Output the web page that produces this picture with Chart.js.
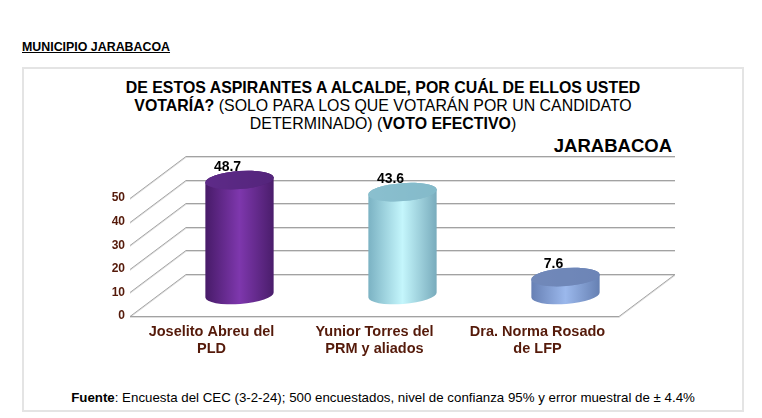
<!DOCTYPE html>
<html>
<head>
<meta charset="utf-8">
<script src="https://cdn.jsdelivr.net/npm/chart.js@4.4.1/dist/chart.umd.min.js"></script>
<style>
  body { margin: 0; background: #fff; font-family: "Liberation Sans", Arial, sans-serif; }
  #wrap { position: relative; width: 762px; height: 418px; overflow: hidden; }
  #head { position: absolute; left: 22px; top: 41px; font-size: 12.4px; line-height: 12px; font-weight: bold; text-decoration: underline; color: #000; }
  #box { position: absolute; left: 22px; top: 67px; width: 722px; height: 345px; border: 2px solid #e4e4e4; box-sizing: border-box; }
  #title { position: absolute; left: 2px; width: 762px; top: 79px; text-align: center; font-size: 15.9px; line-height: 18px; color: #000; }
  #place { position: absolute; right: 90px; top: 137px; font-size: 18.5px; line-height: 18.5px; font-weight: bold; color: #000; }
  #note { position: absolute; left: 2px; width: 762px; top: 391px; text-align: center; font-size: 13.3px; line-height: 13px; color: #000; }
  canvas { position: absolute; left: 0; top: 0; }
</style>
</head>
<body>
<div id="wrap">
  <div id="head">MUNICIPIO JARABACOA</div>
  <div id="box"></div>
  <div id="title">
    <b>DE ESTOS ASPIRANTES A ALCALDE, POR CUÁL DE ELLOS USTED</b><br>
    <b>VOTARÍA?</b> (SOLO PARA LOS QUE VOTARÁN POR UN CANDIDATO<br>
    DETERMINADO) (<b>VOTO EFECTIVO</b>)
  </div>
  <div id="place">JARABACOA</div>
  <div id="note"><b>Fuente</b>: Encuesta del CEC (3-2-24); 500 encuestados, nivel de confianza 95% y error muestral de ± 4.4%</div>
  <canvas id="chart" width="762" height="418"></canvas>
</div>
<script>
// data
const candidates = [
  ['Joselito Abreu del', 'PLD'],
  ['Yunior Torres del', 'PRM y aliados'],
  ['Dra. Norma Rosado', 'de LFP']
];
const votes = [48.7, 43.6, 7.6];
const yMax = 50;
const yStep = 10;

// cylinder colours: [edge, highlight, edge, top]
const cylColors = [
  ['#471b68', '#7e37ad', '#4a1d6b', '#5e2b88'],
  ['#7bb2c3', '#c4f6fc', '#78abbc', '#8abfce'],
  ['#6780b4', '#9bb8ec', '#6680b2', '#7189b9']
];

const depth = { dx: 56, dy: -42 };
const labelColor = '#551a0a';

function seg(ctx, x1, y1, x2, y2) {
  ctx.beginPath();
  ctx.moveTo(x1, y1);
  ctx.lineTo(x2, y2);
  ctx.stroke();
}

const grid3d = {
  id: 'grid3d',
  beforeDatasetsDraw(chart) {
    const { ctx, chartArea: a, scales: { y } } = chart;
    const draw = (off, color) => {
      ctx.strokeStyle = color;
      y.ticks.forEach(t => {
        const py = Math.round(y.getPixelForValue(t.value)) + 0.5 + off;
        seg(ctx, a.left + depth.dx, py + depth.dy, a.right + depth.dx, py + depth.dy);
        seg(ctx, a.left, py, a.left + depth.dx, py + depth.dy);
      });
      const y0 = Math.round(y.getPixelForValue(0)) + 0.5 + off;
      seg(ctx, a.left, y0, a.right, y0);
      seg(ctx, a.right, y0, a.right + depth.dx, y0 + depth.dy);
    };
    ctx.save();
    ctx.lineWidth = 1;
    draw(1, '#dedede');
    draw(0, '#a2a2a2');
    ctx.restore();
  }
};

const cylinders = {
  id: 'cylinders',
  afterDatasetsDraw(chart) {
    const { ctx } = chart;
    const meta = chart.getDatasetMeta(0);
    const rot = -0.075;
    meta.data.forEach((bar, i) => {
      const c = cylColors[i];
      const cx = bar.x + depth.dx / 2;
      const rx = bar.width / 2;
      const ry = 9;
      const yb = bar.base + depth.dy / 2;
      const yt = bar.y + depth.dy / 2;

      ctx.save();
      const g = ctx.createLinearGradient(cx - rx, 0, cx + rx, 0);
      g.addColorStop(0, c[0]);
      g.addColorStop(0.5, c[1]);
      g.addColorStop(1, c[2]);
      ctx.fillStyle = g;
      ctx.beginPath();
      ctx.ellipse(cx, yb, rx, ry, rot, 0, Math.PI, false);
      ctx.ellipse(cx, yt, rx, ry, rot, Math.PI, 2 * Math.PI, false);
      ctx.closePath();
      ctx.fill();

      const gt = ctx.createLinearGradient(cx - rx, 0, cx + rx, 0);
      gt.addColorStop(0, c[3]);
      gt.addColorStop(1, c[0]);
      ctx.fillStyle = gt;
      ctx.beginPath();
      ctx.ellipse(cx, yt, rx, ry, rot, 0, 2 * Math.PI);
      ctx.fill();
      ctx.fillStyle = c[3];
      ctx.globalAlpha = 0.6;
      ctx.fill();
      ctx.globalAlpha = 1;

      ctx.fillStyle = '#000';
      ctx.font = 'bold 14px "Liberation Sans", Arial, sans-serif';
      ctx.textAlign = 'center';
      ctx.textBaseline = 'middle';
      ctx.fillText(votes[i].toFixed(1), cx - 12, yt - 13);
      ctx.restore();
    });
  }
};

new Chart(document.getElementById('chart'), {
  type: 'bar',
  data: {
    labels: candidates,
    datasets: [{
      data: votes,
      backgroundColor: 'rgba(0,0,0,0)',
      borderWidth: 0,
      categoryPercentage: 1,
      barPercentage: 0.42
    }]
  },
  options: {
    responsive: false,
    animation: false,
    layout: { padding: { left: 100, right: 143, top: 198, bottom: 52 } },
    plugins: { legend: { display: false }, tooltip: { enabled: false } },
    scales: {
      x: {
        grid: { display: false, drawTicks: false },
        border: { display: false },
        ticks: {
          color: labelColor,
          padding: 8,
          maxRotation: 0,
          font: { family: '"Liberation Sans", Arial, sans-serif', size: 14.5, weight: 'bold', lineHeight: 1.17 }
        },
        afterFit: s => { s.height = 50; }
      },
      y: {
        min: 0,
        max: yMax,
        grid: { display: false, drawTicks: false },
        border: { display: false },
        ticks: {
          stepSize: yStep,
          color: labelColor,
          padding: 5,
          font: { family: '"Liberation Sans", Arial, sans-serif', size: 12, weight: 'bold' }
        },
        afterFit: s => { s.width = 30; }
      }
    }
  },
  plugins: [grid3d, cylinders]
});
</script>
</body>
</html>
